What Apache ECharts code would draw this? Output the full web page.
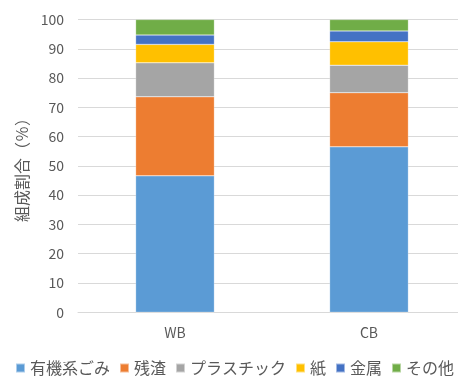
<!DOCTYPE html>
<html><head><meta charset="utf-8">
<script src="https://cdn.jsdelivr.net/npm/echarts@6/dist/echarts.min.js"></script>
<style>html,body{margin:0;padding:0;background:#fff}#c{width:458px;height:376px}</style>
</head><body><div id="c"></div>
<script>
const categories = ['WB', 'CB'];
const seriesNames = ['有機系ごみ', '残渣', 'プラスチック', '紙', '金属', 'その他'];
const organic = [46.6, 56.5];
const residue = [27.0, 18.5];
const plastic = [11.6, 9.4];
const paper = [6.3, 8.0];
const metal = [3.2, 3.7];
const other = [5.3, 3.9];
const yTicks = [0, 10, 20, 30, 40, 50, 60, 70, 80, 90, 100];
const colors = ['#5B9BD5', '#ED7D31', '#A5A5A5', '#FFC000', '#4472C4', '#70AD47'];
const values = [organic, residue, plastic, paper, metal, other];
const font = '"Noto Sans CJK JP", "Noto Sans", sans-serif';

const chart = echarts.init(document.getElementById('c'));
chart.setOption({
  animation: false,
  color: colors,
  grid: { left: 78, width: 388, top: 19.5, bottom: 63.7, containLabel: false, outerBoundsMode: 'none' },
  legend: {
    left: 15, width: 560, bottom: 0, padding: 0, icon: 'rect', itemWidth: 9, itemHeight: 9, itemGap: 9,
    textStyle: { fontFamily: font, fontSize: 16, color: '#595959' },
    data: seriesNames
  },
  xAxis: {
    type: 'category', data: categories,
    axisLine: { lineStyle: { color: '#D9D9D9', width: 1 } },
    axisTick: { show: false },
    axisLabel: { fontFamily: font, fontSize: 14, color: '#595959', margin: 13 }
  },
  yAxis: {
    type: 'value', min: yTicks[0], max: yTicks[yTicks.length - 1], interval: 10,
    name: '組成割合（％）', nameLocation: 'middle', nameGap: 43, nameRotate: 90,
    nameTextStyle: { fontFamily: font, fontSize: 16, color: '#595959' },
    axisLine: { show: false }, axisTick: { show: false },
    axisLabel: { fontFamily: font, fontSize: 14, color: '#595959', margin: 14 },
    splitLine: { lineStyle: { color: '#D9D9D9', width: 1 } }
  },
  series: seriesNames.map((n, i) => ({
    name: n, type: 'bar', stack: 'total', data: values[i],
    barWidth: '40.6%',
    itemStyle: { color: colors[i], borderColor: 'rgba(255,255,255,0.5)', borderWidth: 0.5 }
  }))
});
</script></body></html>
